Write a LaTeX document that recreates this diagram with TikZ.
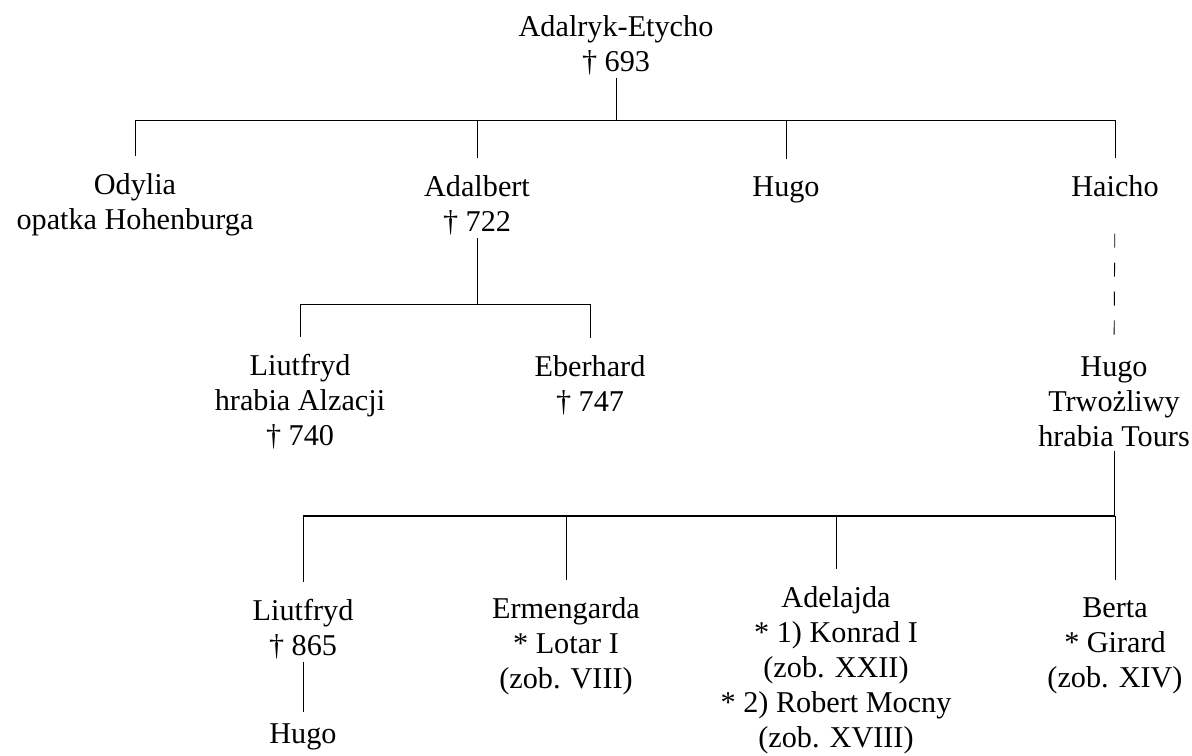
\documentclass[tikz,border=0pt]{standalone}
\usepackage{fontspec}
\setmainfont{Liberation Serif}
\usetikzlibrary{positioning}

\begin{document}
\begin{tikzpicture}[x=0.02cm,y=-0.02cm,
    person/.style={align=center, inner sep=0pt, outer sep=2pt,
      font=\fontsize{17.2}{19.9}\selectfont},
    link/.style={line width=0.5pt},
    down/.style={link, shorten >=8pt},
    unsure/.style={link, dash pattern=on 8pt off 8.5pt}]
  \useasboundingbox (0,0) rectangle (1192,756);

  % pokolenie I
  \node[person] (adalryk) at (616,45) {Adalryk-Etycho\\† 693};
  \coordinate (bar1) at (0,120);

  % pokolenie II
  \node[person] (odylia) at (135,205) {Odylia\\opatka Hohenburga};
  \node[person] (adalbert) at (477,205) {Adalbert\\† 722};
  \node[person] (hugoa) at (786,190) {Hugo};
  \node[person] (haicho) at (1115,186) {Haicho};
  \coordinate (bar2) at (0,304);

  % pokolenie III
  \node[person] (liutfryda) at (300,402) {Liutfryd\\hrabia Alzacji\\† 740};
  \node[person] (eberhard) at (590,385) {Eberhard\\† 747};
  \node[person] (hugob) at (1114,402) {Hugo\\Trwożliwy\\hrabia Tours};
  \coordinate (bar3) at (0,516);

  % pokolenie IV
  \node[person] (liutfrydb) at (303,629) {Liutfryd\\† 865};
  \node[person] (ermengarda) at (566,646) {Ermengarda\\* Lotar I\\(zob. VIII)};
  \node[person] (adelajda) at (836,670) {Adelajda\\* 1) Konrad I\\(zob. XXII)\\* 2) Robert Mocny\\(zob. XVIII)};
  \node[person] (berta) at (1115,646) {Berta\\* Girard\\(zob. XIV)};
  \node[person] (hugoc) at (303,737) {Hugo};

  \draw[link] (adalryk.south) -- (adalryk.south |- bar1);
  \draw[link] (odylia.north |- bar1) -- (haicho.north |- bar1);
  \foreach \kid in {odylia,adalbert,hugoa,haicho}
    \draw[down] (\kid.north |- bar1) -- (\kid.north);

  \draw[link] (adalbert.south) -- (adalbert.south |- bar2);
  \draw[link] (liutfryda.north |- bar2) -- (eberhard.north |- bar2);
  \foreach \kid in {liutfryda,eberhard}
    \draw[down] (\kid.north |- bar2) -- (\kid.north);

  \draw[unsure, shorten <=19pt, shorten >=8pt] (haicho.south) -- (hugob.north);

  \draw[link] (hugob.south) -- (hugob.south |- bar3);
  \draw[line width=1.1pt] (liutfrydb.north |- bar3) -- (berta.north |- bar3);
  \foreach \kid in {liutfrydb,ermengarda,adelajda,berta}
    \draw[down] (\kid.north |- bar3) -- (\kid.north);

  \draw[down, shorten >=5pt] (liutfrydb.south) -- (hugoc.north);
\end{tikzpicture}
\end{document}
